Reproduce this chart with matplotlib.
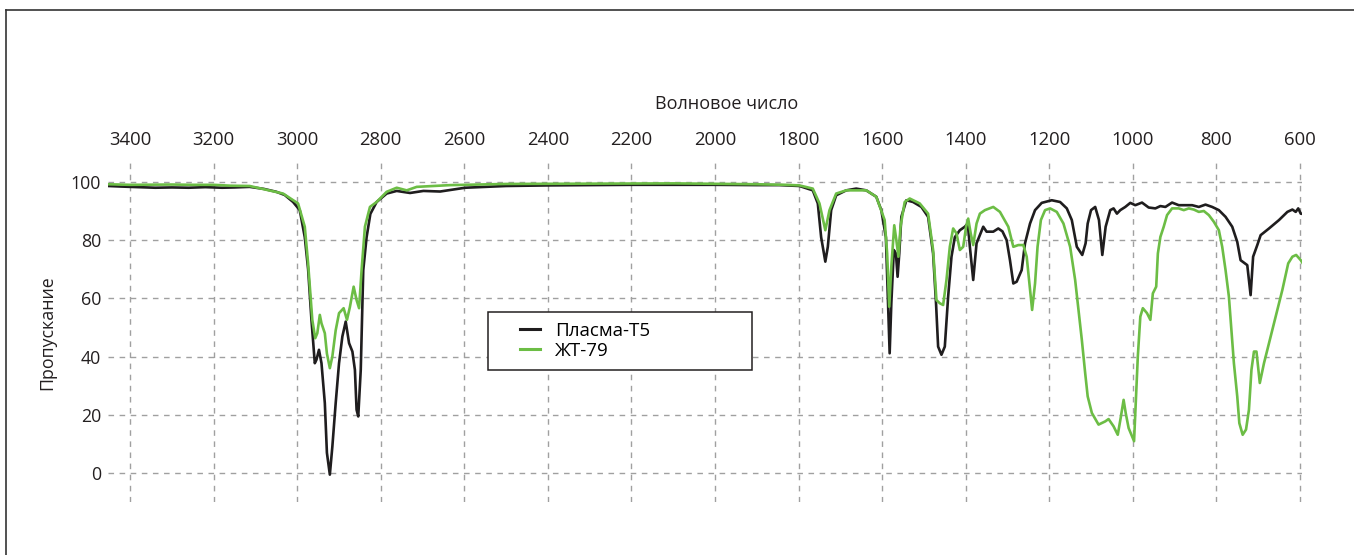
"""IR transmission spectra of two plasma-sprayed coatings."""
import matplotlib
matplotlib.use("Agg")
import matplotlib.pyplot as plt
from matplotlib.lines import Line2D
from matplotlib.patches import Rectangle

plt.rcParams["font.family"] = ["Open Sans", "DejaVu Sans"]

# --- data ----------------------------------------------------------------
plasma_wn = [
    3453, 3420, 3380, 3340, 3300, 3260, 3220, 3180, 3150, 3114, 3080, 3050,
    3030, 3010, 2994, 2982, 2974, 2966, 2958, 2954, 2948, 2942, 2934, 2929,
    2922, 2916, 2908, 2900, 2892, 2884, 2876, 2868, 2862, 2858, 2854, 2848,
    2842, 2834, 2825, 2810, 2786, 2762, 2730, 2698, 2658, 2598, 2500, 2400,
    2300, 2200, 2100, 2000, 1900, 1846, 1798, 1766, 1754, 1746, 1736, 1730,
    1722, 1710, 1686, 1662, 1638, 1614, 1602, 1591, 1586, 1582, 1578, 1572,
    1567, 1563, 1559, 1554, 1542, 1526, 1506, 1490, 1478, 1471, 1466, 1458,
    1450, 1442, 1434, 1426, 1414, 1402, 1395, 1390, 1382, 1374, 1366, 1358,
    1350, 1334, 1322, 1312, 1302, 1294, 1286, 1278, 1266, 1258, 1246, 1234,
    1218, 1194, 1174, 1158, 1146, 1134, 1121, 1113, 1108, 1100, 1090, 1081,
    1073, 1065, 1054, 1046, 1038, 1030, 1018, 1006, 994, 978, 962, 946, 934,
    922, 906, 890, 874, 858, 842, 826, 810, 794, 778, 762, 750, 742, 726,
    718, 712, 702, 694, 674, 650, 630, 618, 610, 604, 598, 594,
]
plasma_t = [
    98.6, 98.4, 98.2, 98.0, 98.1, 98.0, 98.2, 98.0, 98.1, 98.3, 97.6, 96.6,
    95.5, 93.1, 90.3, 81.0, 70.0, 52.6, 37.7, 38.9, 42.3, 37.7, 24.0, 6.9,
    -0.6, 9.0, 24.0, 37.7, 46.9, 52.0, 44.6, 41.7, 35.4, 21.7, 19.4, 35.4,
    69.7, 81.0, 89.0, 93.1, 96.0, 96.9, 96.2, 96.9, 96.7, 98.0, 98.6, 98.8,
    98.9, 99.0, 99.0, 99.0, 98.9, 98.9, 98.6, 97.1, 92.6, 81.0, 72.6, 77.7,
    90.3, 95.4, 97.1, 97.7, 97.1, 94.9, 90.3, 81.0, 58.3, 41.1, 58.3, 76.6,
    75.4, 67.4, 75.4, 88.0, 93.7, 93.1, 91.4, 88.0, 75.4, 58.3, 43.4, 40.6,
    43.4, 60.6, 74.3, 81.0, 83.4, 84.6, 85.7, 77.7, 66.3, 78.9, 81.7, 84.6,
    82.9, 82.9, 84.0, 83.0, 80.0, 73.1, 65.1, 65.7, 69.7, 78.9, 85.7, 90.3,
    92.8, 93.7, 93.1, 90.9, 86.9, 77.7, 74.9, 78.9, 85.7, 90.3, 91.4, 86.9,
    74.9, 84.6, 90.3, 90.9, 89.1, 90.3, 91.4, 92.8, 92.0, 92.9, 91.2, 90.9, 91.7,
    91.4, 92.9, 92.0, 92.0, 92.0, 91.4, 92.2, 91.4, 90.3, 88.0, 84.6, 79.4, 73.1, 71.4,
    61.1, 74.3, 78.3, 81.7, 84.0, 86.9, 89.7, 90.5, 89.7, 90.9, 89.1, 89.0,
]

zht_wn = [
    3453, 3400, 3300, 3250, 3200, 3160, 3114, 3080, 3034, 2998, 2982, 2974,
    2964, 2957, 2952, 2946, 2942, 2934, 2929, 2922, 2916, 2908, 2900, 2889,
    2881, 2874, 2865, 2858, 2852, 2846, 2838, 2826, 2810, 2786, 2762, 2738,
    2714, 2634, 2500, 2300, 2100, 1900, 1830, 1798, 1766, 1750, 1736, 1726,
    1710, 1686, 1638, 1614, 1594, 1588, 1583, 1578, 1571, 1566, 1561, 1556,
    1546, 1534, 1510, 1490, 1478, 1470, 1462, 1454, 1446, 1438, 1430, 1422,
    1414, 1406, 1399, 1394, 1388, 1382, 1374, 1366, 1354, 1334, 1318, 1298,
    1286, 1274, 1262, 1254, 1246, 1241, 1234, 1228, 1220, 1210, 1198, 1182,
    1166, 1150, 1138, 1130, 1122, 1114, 1108, 1098, 1082, 1066, 1058, 1046,
    1036, 1029, 1022, 1017, 1010, 1002, 997, 993, 988, 982, 976, 966, 958,
    952, 944, 940, 934, 926, 918, 906, 890, 878, 866, 854, 842, 830, 818,
    806, 794, 786, 778, 770, 764, 758, 750, 745, 737, 729, 722, 716, 710,
    704, 696, 686, 674, 658, 642, 628, 618, 609, 598, 594,
]
zht_t = [
    99.2, 99.0, 99.1, 99.0, 99.0, 98.7, 98.6, 97.5, 96.0, 92.6, 84.6, 72.0,
    52.6, 46.3, 48.0, 54.3, 51.4, 48.0, 41.0, 36.0, 40.0, 49.0, 54.9, 56.6,
    52.6, 57.0, 64.0, 59.4, 56.6, 69.7, 84.6, 91.4, 93.1, 96.6, 98.0, 97.1,
    98.3, 98.9, 99.3, 99.4, 99.5, 99.2, 99.0, 98.8, 97.7, 92.6, 83.4, 90.3,
    96.0, 97.1, 97.1, 94.9, 86.9, 75.4, 57.1, 70.9, 85.1, 80.0, 74.3, 84.6,
    93.1, 94.3, 92.6, 89.1, 76.6, 59.4, 58.3, 57.7, 66.3, 77.7, 84.0, 82.3,
    76.6, 77.7, 84.6, 87.4, 82.3, 78.3, 85.7, 89.1, 90.3, 91.4, 89.7, 84.6,
    77.7, 78.3, 78.3, 74.3, 62.9, 56.0, 65.1, 77.7, 86.9, 90.3, 90.9, 89.7,
    85.7, 77.7, 66.3, 56.0, 45.7, 34.3, 26.3, 20.6, 16.6, 17.7, 18.5, 16.0,
    13.1, 18.9, 25.1, 20.6, 15.4, 12.6, 10.9, 24.0, 40.0, 53.7, 56.6, 54.9, 52.6,
    61.7, 64.0, 75.4, 81.1, 84.6, 88.6, 90.9, 90.9, 90.3, 90.9, 90.5, 89.7, 90.0, 88.6,
    86.3, 83.4, 77.7, 69.7, 60.6, 49.1, 37.7, 26.3, 17.1, 13.1, 14.9, 21.7, 35.4, 41.7,
    41.7, 30.9, 37.7, 44.6, 53.7, 62.9, 72.0, 74.3, 74.9, 73.1, 72.2,
]

labels = ["Пласма-Т5", "ЖТ-79"]
colors = ["#1f1d1e", "#6cbd45"]
x_ticks = list(range(3400, 599, -200))
y_ticks = [0, 20, 40, 60, 80, 100]

# --- figure ---------------------------------------------------------------
fig = plt.figure(figsize=(13.54, 5.55), dpi=100)
ax = fig.add_axes([108 / 1354, 1 - 502 / 555, 1194 / 1354, 339 / 555])

ax.plot(plasma_wn, plasma_t, color=colors[0], lw=1.9, label=labels[0], zorder=3)
ax.plot(zht_wn, zht_t, color=colors[1], lw=1.9, label=labels[1], zorder=4)

ax.set_xlim(3453, 595)
ax.set_ylim(-10, 106.5)
ax.set_xticks(x_ticks)
ax.set_yticks(y_ticks)
ax.xaxis.tick_top()
ax.tick_params(axis="x", length=0, pad=10, labelsize=13.3, colors="#231f20")
ax.tick_params(axis="y", length=0, pad=5, labelsize=12.8, colors="#231f20")
for s in ax.spines.values():
    s.set_visible(False)
ax.grid(True, color="#a0a0a0", lw=1.0, linestyle=(0, (4, 4)), zorder=1)
ax.set_axisbelow(True)

fig.text(727 / 1354, 1 - 104 / 555, "Волновое число", ha="center", va="center",
         fontsize=13, color="#231f20")
fig.text(47 / 1354, 1 - 333 / 555, "Пропускание", ha="center", va="center",
         rotation=90, fontsize=12.8, color="#231f20")

# legend: plain frame drawn separately so the box can be wider than the text
box = Rectangle((380 / 1194, 1 - 370 / 339 + 163 / 339), 264 / 1194, 58 / 339,
                transform=ax.transAxes, facecolor="white", edgecolor="#231f20",
                lw=1.1, zorder=5)
ax.add_patch(box)
leg = ax.legend(loc="upper left", bbox_to_anchor=(412 / 1194, 1 - 159 / 339),
                frameon=False, fontsize=13.5, handlelength=1.07, handletextpad=0.8,
                labelspacing=0.1, borderpad=0, borderaxespad=0)
leg.set_zorder(6)
for h in leg.get_lines():
    h.set_linewidth(2.2)

# partial figure frame (top and left edges only)
fig.add_artist(Line2D([6 / 1354, 1], [1 - 10 / 555, 1 - 10 / 555],
                      transform=fig.transFigure, color="#333333", lw=1.2))
fig.add_artist(Line2D([6 / 1354, 6 / 1354], [0, 1 - 10 / 555],
                      transform=fig.transFigure, color="#333333", lw=1.2))

fig.savefig("out.png", dpi=100)
